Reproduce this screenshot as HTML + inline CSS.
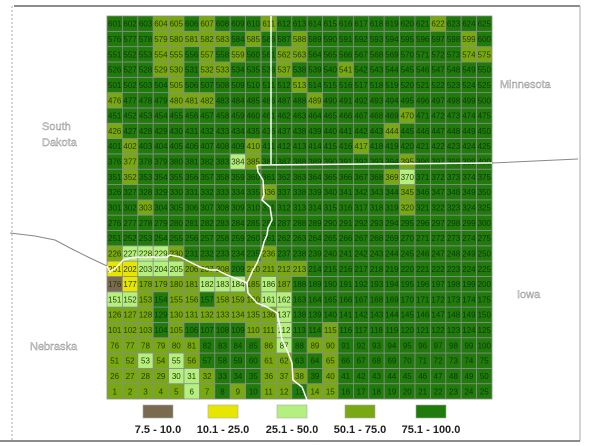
<!DOCTYPE html>
<html><head><meta charset="utf-8"><style>
html,body{margin:0;padding:0;background:#fff;}
svg{display:block;font-family:"Liberation Sans",sans-serif;}
</style></head><body>
<svg id="map" width="594" height="446" viewBox="0 0 594 446" xmlns="http://www.w3.org/2000/svg">
<line x1="14" y1="6" x2="580" y2="6" stroke="#666" stroke-width="1.5"/>
<line x1="12" y1="6" x2="12" y2="441" stroke="#aaa" stroke-dasharray="2,2"/>
<line x1="580" y1="6" x2="580" y2="441" stroke="#aaa"/>
<line x1="0" y1="441" x2="580" y2="441" stroke="#666" stroke-width="1.5"/>
<g id="cells"></g>
<g id="legend"></g>
<path fill="none" stroke="#888" stroke-width="1"
 d="M10,233 L35,236 L55,240 L70,248 L90,258 L107,266 M492,163 L578,159"/>
<path fill="none" stroke="#fff" stroke-width="1.5"
 d="M271,16 L271,165 M257,165 L492,163 M107,266 L110,272 L117,267 L123,260 L130,258 L140,257 L167,257 L170,255 L180,257 L190,262 L200,267 L210,270 L217,270 L227,275 L240,280 L247,283"/>
<path fill="none" stroke="#fff" stroke-width="1.5"
 d="M257,165 L258,172 L263,180 L264,195 L262,200 L270,207 L272,220 L268,228 L267,235 L264,242 L262,250 L257,263 L253,270 L247,283 L248,293 L257,303 L267,307 L277,313 L280,327 L282,340 L287,350 L292,363 L293,380 L302,387 L307,400 L310,407 L313,440"/>
<g font-size="11" fill="#eee" stroke="#888" stroke-width="0.4">
<text x="42" y="130">South</text>
<text x="42" y="146">Dakota</text>
<text x="500" y="88">Minnesota</text>
<text x="517" y="298">Iowa</text>
<text x="30" y="350">Nebraska</text>
</g>
</svg>
<script>
const classes=["7.5 - 10.0","10.1 - 25.0","25.1 - 50.0","50.1 - 75.0","75.1 - 100.0"];
const classColors=["#7a6a50","#e6e600","#b4f080","#78a812","#207a0c"];
// cell id -> class index (default 4 = 75.1-100)
const medCells=[604,605,607,611,622,579,580,581,582,583,585,588,599,554,555,557,559,562,563,574,575,529,530,532,533,537,541,505,513,476,480,481,482,489,470,426,444,402,410,417,377,385,395,352,369,336,345,303,320,226,230,236,206,207,208,210,211,212,213,178,179,180,181,185,187,153,155,156,158,159,160,126,127,128,130,131,132,133,134,135,136,101,102,103,105,110,111,115,76,77,78,79,80,81,86,89,90,51,52,54,56,61,62,65,26,27,28,29,32,36,37,38,40,1,2,3,4,5,7,9,11,12,14,15];
const lightCells=[384,370,227,228,229,203,204,205,182,183,184,186,151,152,161,162,137,112,87,53,55,30,31,6];
const yellowCells=[201,202,177];
const brownCells=[176];
const nCols=25,nRows=25;
const X0=107,X1=492,Y0=16,Y1=399;
const cw=(X1-X0)/nCols,ch=(Y1-Y0)/nRows;
function xPos(col){return X0+col*cw;}
function yPos(row){return Y1-(row+1)*ch;}
function cls(id){
 if(brownCells.includes(id))return 0;
 if(yellowCells.includes(id))return 1;
 if(lightCells.includes(id))return 2;
 if(medCells.includes(id))return 3;
 return 4;
}
const NS="http://www.w3.org/2000/svg";
const g=document.getElementById('cells');
for(let id=1;id<=nCols*nRows;id++){
 const row=Math.floor((id-1)/nCols),col=(id-1)%nCols;
 const r=document.createElementNS(NS,'rect');
 
 
 r.setAttribute('x',xPos(col));r.setAttribute('y',yPos(row));
 r.setAttribute('width',cw);r.setAttribute('height',ch);
 r.setAttribute('fill',classColors[cls(id)]);
 r.setAttribute('stroke','#8c8c8c');r.setAttribute('stroke-width','0.8');
 g.appendChild(r);
 const t=document.createElementNS(NS,'text');
 
 
 t.setAttribute('x',xPos(col)+cw/2);t.setAttribute('y',yPos(row)+ch/2+3);
 t.setAttribute('text-anchor','middle');t.setAttribute('font-size','8');
 t.setAttribute('fill',cls(id)==4?'#0c3a04':'#2a3a00');
 t.textContent=id;
 g.appendChild(t);
}
const lg=document.getElementById('legend');
const legX=[143,208,277,345,416];
classes.forEach((c,i)=>{
 const r=document.createElementNS(NS,'rect');
 
 
 r.setAttribute('x',legX[i]);r.setAttribute('y',405);
 r.setAttribute('width',30);r.setAttribute('height',13);
 r.setAttribute('fill',classColors[i]);r.setAttribute('stroke','#aaa');r.setAttribute('stroke-width','0.6');
 lg.appendChild(r);
 const t=document.createElementNS(NS,'text');
 
 
 t.setAttribute('x',legX[i]+15);t.setAttribute('y',433);
 t.setAttribute('text-anchor','middle');t.setAttribute('font-size','11');t.setAttribute('font-weight','bold');
 t.setAttribute('fill','#222');
 t.textContent=c;
 lg.appendChild(t);
});
</script>
</body></html>
